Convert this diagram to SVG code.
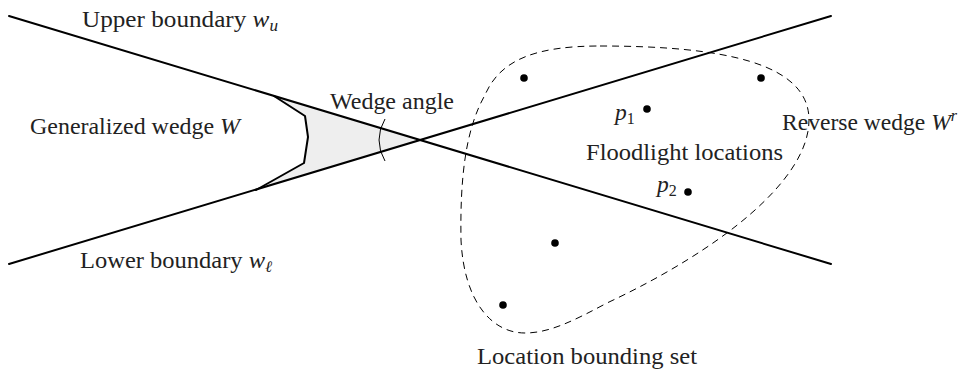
<svg xmlns="http://www.w3.org/2000/svg" width="965" height="371" viewBox="0 0 965 371">
<style>
.bd{stroke:#000;stroke-width:2;fill:none;stroke-linecap:round}
.lb{font-family:"Liberation Serif","Times New Roman",serif;font-size:23.5px;fill:#222}
.it{font-style:italic}
.dot{fill:#000}
</style>
<rect width="965" height="371" fill="#fff"/>
<g id="wedge">
<polygon points="274,96 305,116 308,137 304,163 256,190 420,140" fill="#eeeeee" stroke="none"/>
<polyline points="274,96 305,116 308,137 304,163 256,190" class="bd" stroke-linejoin="round"/>
</g>
<g id="connectors">
<line id="upper" x1="9" y1="16" x2="831" y2="264" class="bd"/>
<line id="lower" x1="9" y1="264" x2="831" y2="16" class="bd"/>
<path id="angle" d="M385,119 A40,40 0 0 0 385,161" fill="none" stroke="#000" stroke-width="1"/>
</g>
<g id="bounding-set">
<path d="M600,46 C720,46 809,62 809,120 C809,180 720,250 607,303 C575,320 550,333 525,333 C492,333 464,302 461,240 C460,180 465,130 485,95 C500,60 535,46 600,46 Z" fill="none" stroke="#000" stroke-width="1" stroke-dasharray="7,5"/>
</g>
<g id="points">
<circle class="dot" cx="524" cy="78" r="3.8"/>
<circle class="dot" cx="761" cy="78" r="3.8"/>
<circle class="dot" cx="647" cy="109" r="3.8"/>
<circle class="dot" cx="688" cy="192" r="3.8"/>
<circle class="dot" cx="555" cy="243" r="3.8"/>
<circle class="dot" cx="503" cy="305" r="3.8"/>
</g>
<g id="labels">
<text class="lb" x="82" y="27" textLength="196" lengthAdjust="spacingAndGlyphs">Upper boundary <tspan class="it">w</tspan><tspan font-size="16" dy="4" class="it">u</tspan></text>
<text class="lb" x="30" y="134" textLength="210" lengthAdjust="spacingAndGlyphs">Generalized wedge <tspan class="it">W</tspan></text>
<text class="lb" x="80" y="268" textLength="192" lengthAdjust="spacingAndGlyphs">Lower boundary <tspan class="it">w</tspan><tspan font-size="16" dy="4" class="it">ℓ</tspan></text>
<text class="lb" x="330" y="109" textLength="124" lengthAdjust="spacingAndGlyphs">Wedge angle</text>
<text class="lb" x="586" y="160" textLength="197" lengthAdjust="spacingAndGlyphs">Floodlight locations</text>
<text class="lb" x="782" y="130" textLength="175" lengthAdjust="spacingAndGlyphs">Reverse wedge <tspan class="it">W</tspan><tspan font-size="16" dy="-9" class="it">r</tspan></text>
<text class="lb" x="477" y="364" textLength="220" lengthAdjust="spacingAndGlyphs">Location bounding set</text>
<text class="lb" x="615" y="120"><tspan class="it">p</tspan><tspan font-size="16" dy="4">1</tspan></text>
<text class="lb" x="657" y="192"><tspan class="it">p</tspan><tspan font-size="16" dy="4">2</tspan></text>
</g>
</svg>
